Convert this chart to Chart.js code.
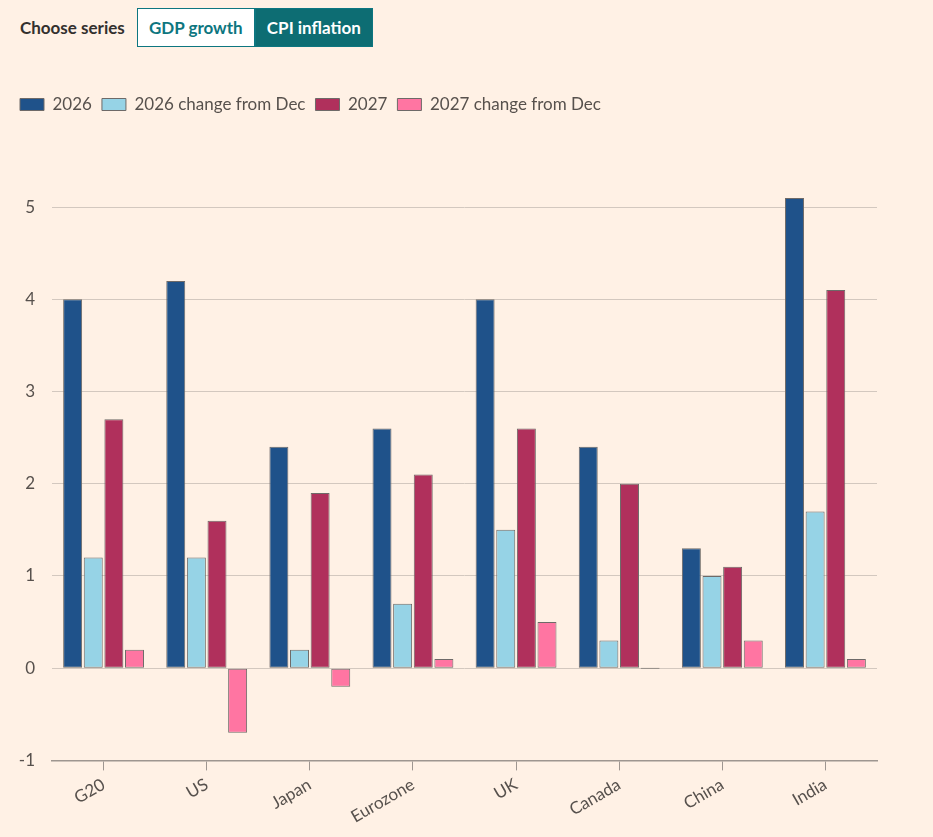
<!DOCTYPE html>
<html>
<head>
<meta charset="utf-8">
<script src="https://cdn.jsdelivr.net/npm/chart.js@4.4.1/dist/chart.umd.min.js"></script>
<style>
  html, body { margin: 0; padding: 0; background: #fff1e5; }
  body { width: 933px; height: 837px; position: relative; overflow: hidden; font-family: Lato, "Noto Sans", sans-serif; }
  .picker { position: absolute; left: 20px; top: 8px; display: flex; align-items: center; height: 39px; }
  .picker .label { font-size: 17px; font-weight: bold; color: #33302e; margin-right: 12px; }
  .picker .btn { box-sizing: border-box; height: 39px; line-height: 37px; padding: 0 8px; font-size: 17px; font-weight: bold; border: 1px solid #0d7680; }
  .picker .off { color: #0d7680; background: #fff; width: 118px; text-align: center; }
  .picker .on { color: #fff; background: #0d6d73; width: 118px; text-align: center; }
  #wrap { position: absolute; left: 0; top: 60px; width: 933px; height: 777px; }
</style>
</head>
<body>
<div class="picker">
  <span class="label">Choose series</span>
  <span class="btn off">GDP growth</span>
  <span class="btn on">CPI inflation</span>
</div>
<div id="wrap"><canvas id="chart"></canvas></div>
<script>
// CPI inflation forecasts, %
const categories = ["G20", "US", "Japan", "Eurozone", "UK", "Canada", "China", "India"];
const cpi2026 = [4.0, 4.2, 2.4, 2.6, 4.0, 2.4, 1.3, 5.1];
const change2026 = [1.2, 1.2, 0.2, 0.7, 1.5, 0.3, 1.0, 1.7];
const cpi2027 = [2.7, 1.6, 1.9, 2.1, 2.6, 2.0, 1.1, 4.1];
const change2027 = [0.2, -0.7, -0.2, 0.1, 0.5, 0.0, 0.3, 0.1];
const yTicks = [-1, 0, 1, 2, 3, 4, 5];

const seriesNames = ["2026", "2026 change from Dec", "2027", "2027 change from Dec"];
const seriesColors = ["#1f528a", "#96d3e6", "#b0305c", "#ff75a2"];
const seriesData = [cpi2026, change2026, cpi2027, change2027];

const textColor = "#57514d";

// extra room under the legend
const legendSpace = {
    id: 'legendSpace',
    beforeInit(chart) {
        const fit = chart.legend.fit;
        chart.legend.fit = function () {
            fit.bind(chart.legend)();
            this.height += 38;
        };
    }
};

new Chart(document.getElementById('chart').getContext('2d'), {
    type: 'bar',
    data: {
        labels: categories,
        datasets: seriesData.map((d, i) => ({
            label: seriesNames[i],
            data: d,
            backgroundColor: seriesColors[i],
            borderColor: "#6e6a68",
            borderWidth: 1,
            borderSkipped: false,
            minBarLength: 1,
            categoryPercentage: 0.8,
            barPercentage: 0.92
        }))
    },
    options: {
        responsive: true,
        maintainAspectRatio: false,
        animation: false,
        layout: { padding: { top: 26, left: 10, right: 56, bottom: 6 } },
        plugins: {
            tooltip: { enabled: false },
            legend: {
                position: 'top',
                align: 'start',
                labels: {
                    boxWidth: 24,
                    boxHeight: 12,
                    padding: 10,
                    color: textColor,
                    font: { family: 'Lato', size: 17 }
                }
            }
        },
        scales: {
            x: {
                grid: { display: true, offset: false, drawOnChartArea: false, drawTicks: true, tickLength: 10, color: "#9e9690" },
                border: { display: true, color: "#9e9690", width: 1.5 },
                ticks: {
                    color: textColor,
                    font: { family: 'Lato', size: 17 },
                    minRotation: 30,
                    maxRotation: 30,
                    padding: 4
                }
            },
            y: {
                min: -1,
                max: 5.5,
                afterBuildTicks(axis) {
                    axis.ticks = yTicks.map(v => ({ value: v }));
                },
                afterFit(axis) {
                    axis.width = 42;
                },
                grid: { color: "#d3c8bf", drawTicks: false, lineWidth: 1 },
                border: { display: false },
                ticks: {
                    color: textColor,
                    font: { family: 'Lato', size: 17 },
                    padding: 17
                }
            }
        }
    },
    plugins: [legendSpace]
});
</script>
</body>
</html>
